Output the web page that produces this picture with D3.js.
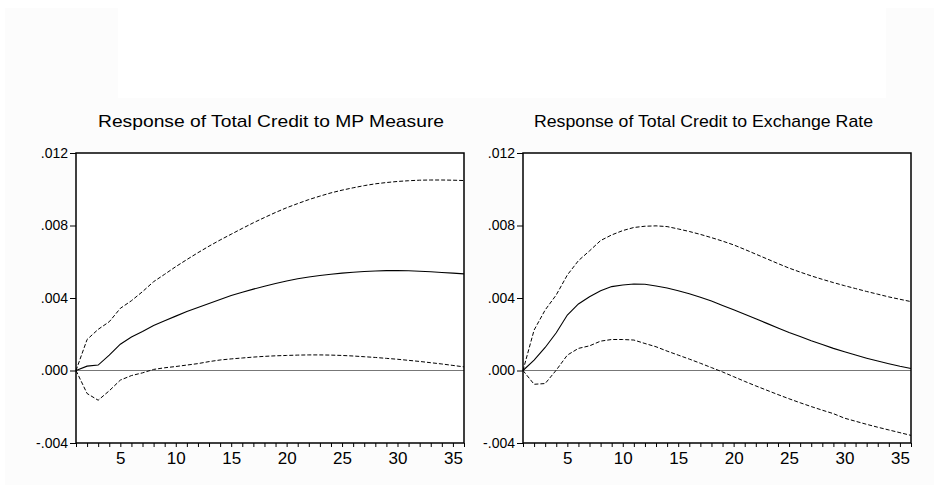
<!DOCTYPE html>
<html>
<head>
<meta charset="utf-8">
<script src="https://cdn.jsdelivr.net/npm/d3@7"></script>
<style>
	body { margin: 0; background: #fff; }
	svg { display: block; font-family: 'Liberation Sans', Arial, sans-serif; }
</style>
</head>
<body>
<svg id="chart" width="934" height="485"></svg>
<script>
	const periods = d3.range(1, 37)

	const mpMid = [0, 0.00024, 0.0003, 0.00085, 0.00145, 0.00185, 0.00215, 0.00248, 0.00275, 0.0030,
		0.00325, 0.00348, 0.0037, 0.00392, 0.00414, 0.00432, 0.00449, 0.00465, 0.0048, 0.00494,
		0.00506, 0.00516, 0.00524, 0.00531, 0.00537, 0.00542, 0.00546, 0.00549, 0.00551, 0.00551,
		0.0055, 0.00548, 0.00545, 0.00541, 0.00537, 0.00533]
	const mpUpper = [0, 0.00171, 0.00227, 0.00269, 0.00343, 0.00385, 0.00435, 0.0049, 0.00531, 0.00573,
		0.00612, 0.0065, 0.00686, 0.0072, 0.00752, 0.00784, 0.00815, 0.00844, 0.00872, 0.00898,
		0.00921, 0.00943, 0.00962, 0.0098, 0.00995, 0.01008, 0.0102, 0.0103, 0.01037, 0.01043,
		0.01047, 0.0105, 0.01051, 0.01051, 0.0105, 0.01048]
	const mpLower = [0, -0.00127, -0.00164, -0.00112, -0.00053, -0.00028, -0.00013, 0.00006, 0.00015, 0.00022,
		0.0003, 0.00038, 0.00049, 0.00058, 0.00064, 0.00069, 0.00074, 0.00078, 0.00081, 0.00083,
		0.00085, 0.00086, 0.00086, 0.00085, 0.00083, 0.0008, 0.00076, 0.00072, 0.00067, 0.00062,
		0.00056, 0.0005, 0.00043, 0.00036, 0.00028, 0.0002]

	const fxMid = [0, 0.00057, 0.00127, 0.00208, 0.00306, 0.00367, 0.00407, 0.0044, 0.00463, 0.00472,
		0.00477, 0.00476, 0.00466, 0.00455, 0.0044, 0.00423, 0.00404, 0.00383, 0.00359, 0.00335,
		0.0031, 0.00285, 0.0026, 0.00235, 0.0021, 0.00187, 0.00164, 0.00143, 0.00122, 0.00103,
		0.00085, 0.00068, 0.00052, 0.00037, 0.00023, 0.00011]
	const fxUpper = [0, 0.00223, 0.00334, 0.00417, 0.00527, 0.00606, 0.0066, 0.00717, 0.00748, 0.00772,
		0.00789, 0.00796, 0.00798, 0.00794, 0.00781, 0.00767, 0.00751, 0.00733, 0.00714, 0.00693,
		0.00668, 0.00642, 0.00616, 0.0059, 0.00565, 0.00543, 0.00522, 0.00503, 0.00485, 0.00468,
		0.00452, 0.00436, 0.00421, 0.00406, 0.00393, 0.0038]
	const fxLower = [0, -0.00076, -0.00072, 0.00002, 0.00085, 0.00122, 0.00136, 0.00162, 0.00171, 0.00171,
		0.00168, 0.00149, 0.00131, 0.00107, 0.00085, 0.00063, 0.0004, 0.00016, -0.00008, -0.00034,
		-0.0006, -0.00085, -0.00109, -0.00133, -0.00156, -0.00178, -0.00199, -0.00219, -0.00238, -0.00263,
		-0.0028, -0.00297, -0.00313, -0.00328, -0.00343, -0.00358]

	const titles = ['Response of Total Credit to MP Measure', 'Response of Total Credit to Exchange Rate']
	const yTicks = [-0.004, 0, 0.004, 0.008, 0.012]
	const xTickLabels = [5, 10, 15, 20, 25, 30, 35]

	const svg = d3.select('#chart')

	// faint backdrop like the exported graph
	svg.append('rect').attr('x', 5).attr('y', 8).attr('width', 929).attr('height', 477).attr('fill', '#fcfcfc')
	svg.append('rect').attr('x', 118).attr('y', 8).attr('width', 768).attr('height', 90).attr('fill', '#fff')

	const panels = [
		{ left: 76, right: 464, title: titles[0], titleX: 98, titleW: 346, mid: mpMid, upper: mpUpper, lower: mpLower },
		{ left: 523, right: 911, title: titles[1], titleX: 534, titleW: 339, mid: fxMid, upper: fxUpper, lower: fxLower },
	]
	const plotTop = 153, plotBottom = 443

	const fmtY = (v) => {
		const s = d3.format('.3f')(Math.abs(v)).replace(/^0/, '')
		return v < 0 ? '-' + s : s
	}

	panels.forEach((p) => {
		const x = d3.scaleLinear().domain([1, 36]).range([p.left, p.right])
		const y = d3.scaleLinear().domain([-0.004, 0.012]).range([plotBottom, plotTop])
		const g = svg.append('g')

		g.append('rect')
			.attr('x', p.left).attr('y', plotTop)
			.attr('width', p.right - p.left).attr('height', plotBottom - plotTop)
			.attr('fill', '#fff')

		g.append('text')
			.attr('x', p.titleX).attr('y', 127)
			.attr('font-size', 17)
			.attr('textLength', p.titleW)
			.attr('lengthAdjust', 'spacingAndGlyphs')
			.attr('fill', '#000')
			.text(p.title)

		// zero line
		g.append('line')
			.attr('x1', p.left).attr('x2', p.right)
			.attr('y1', y(0)).attr('y2', y(0))
			.attr('stroke', '#777').attr('stroke-width', 1.2)

		const line = d3.line().x((d, i) => x(periods[i])).y((d) => y(d))

		g.append('path').datum(p.upper).attr('d', line)
			.attr('fill', 'none').attr('stroke', '#000').attr('stroke-width', 1)
			.attr('stroke-dasharray', '4,2')
		g.append('path').datum(p.lower).attr('d', line)
			.attr('fill', 'none').attr('stroke', '#000').attr('stroke-width', 1)
			.attr('stroke-dasharray', '4,2')
		g.append('path').datum(p.mid).attr('d', line)
			.attr('fill', 'none').attr('stroke', '#000').attr('stroke-width', 1.1)

		// frame
		g.append('rect')
			.attr('x', p.left).attr('y', plotTop)
			.attr('width', p.right - p.left).attr('height', plotBottom - plotTop)
			.attr('fill', 'none').attr('stroke', '#000').attr('stroke-width', 1.5)

		const yAxis = g.append('g')
			.attr('transform', `translate(${p.left},0)`)
			.call(d3.axisLeft(y).tickValues(yTicks).tickFormat(fmtY).tickSize(6).tickPadding(2))
		yAxis.select('.domain').remove()
		yAxis.selectAll('line').attr('stroke', '#000')
		yAxis.selectAll('text').attr('font-size', 14).attr('font-family', 'Liberation Sans, Arial, sans-serif').attr('fill', '#000')

		const xAxis = g.append('g')
			.attr('transform', `translate(0,${plotBottom})`)
			.call(d3.axisBottom(x).tickValues(periods).tickFormat((d) => xTickLabels.includes(d) ? d : '').tickSize(4).tickPadding(5))
		xAxis.select('.domain').remove()
		xAxis.selectAll('line').attr('stroke', '#000')
		xAxis.selectAll('text').attr('font-size', 17).attr('font-family', 'Liberation Sans, Arial, sans-serif').attr('fill', '#000')
	})
</script>
</body>
</html>
